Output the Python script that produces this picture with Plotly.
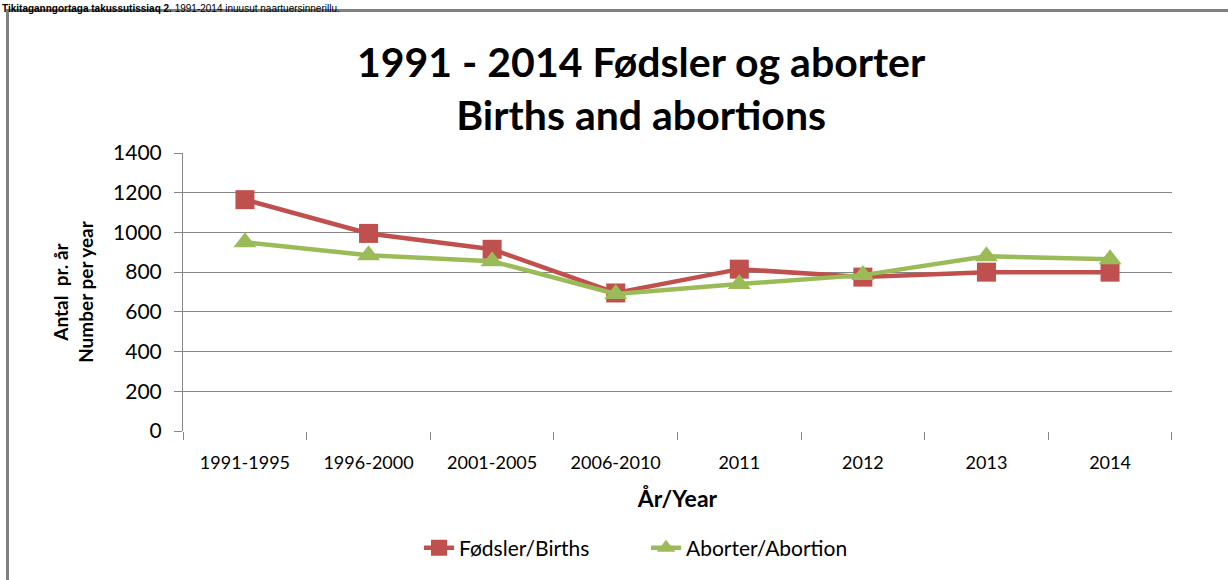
import plotly.graph_objects as go

categories = ["1991-1995", "1996-2000", "2001-2005", "2006-2010", "2011", "2012", "2013", "2014"]
births = [1165, 995, 915, 695, 815, 775, 800, 800]
abortions = [950, 885, 855, 690, 740, 785, 880, 865]
y_ticks = [0, 200, 400, 600, 800, 1000, 1200, 1400]

RED = "#C0504D"
GREEN = "#9BBB59"
GRID = "#868686"
FONT = "Lato"

W, H = 1228, 580
L, R, T, B = 183, 56, 153, 147
pw = W - L - R
ph = H - T - B


def px_x(x):
    return (x - L) / pw


def px_y(y):
    return (H - B - y) / ph


fig = go.Figure()
fig.add_trace(go.Scatter(
    x=categories, y=births, name="Fødsler/Births", mode="lines+markers",
    line=dict(color=RED, width=4.5),
    marker=dict(symbol="square", size=19, color=RED),
))
fig.add_trace(go.Scatter(
    x=categories, y=abortions, name="Aborter/Abortion", mode="lines+markers",
    line=dict(color=GREEN, width=4.5),
    marker=dict(symbol="triangle-up", size=20, color=GREEN),
))

fig.update_layout(
    width=W, height=H,
    margin=dict(l=L, r=R, t=T, b=B),
    paper_bgcolor="white", plot_bgcolor="white",
    font=dict(family=FONT, color="#000000", size=18),
    showlegend=True,
    legend=dict(orientation="h", x=px_x(419), xanchor="left", y=px_y(551), yanchor="middle",
                font=dict(size=21, family=FONT), tracegroupgap=0,
                entrywidth=182, entrywidthmode="pixels"),
    xaxis=dict(
        type="category", tickson="boundaries", ticks="outside", ticklen=8,
        tickcolor=GRID, tickwidth=1, showgrid=False, showline=False,
        tickfont=dict(size=18, family=FONT), ticklabelstandoff=19,
        title=dict(text="<b>År/Year</b>", font=dict(size=23, family=FONT), standoff=18),
        zeroline=False,
    ),
    yaxis=dict(
        range=[0, 1400], tickvals=y_ticks, ticks="outside", ticklen=8,
        tickcolor=GRID, showgrid=True, gridcolor=GRID, gridwidth=1,
        showline=True, linecolor=GRID, linewidth=1,
        tickfont=dict(size=21, family=FONT), ticklabelstandoff=8,
        title=dict(text="<b>Antal  pr. år<br>Number per year</b>", font=dict(size=19, family=FONT), standoff=14),
        zeroline=False,
    ),
)

# Title
fig.add_annotation(
    text="<b>1991 - 2014 Fødsler og aborter<br>Births and abortions</b>",
    xref="paper", yref="paper", x=px_x(641), y=px_y(88), xanchor="center", yanchor="middle",
    showarrow=False, font=dict(size=41, family=FONT, color="#000000"),
)

# Document header at the very top
fig.add_annotation(
    text="<b>Tikitaganngortaga takussutissiaq 2.</b> 1991-2014 inuusut naartuersinnerillu.",
    xref="paper", yref="paper", x=px_x(0), y=px_y(0), xanchor="left", yanchor="top",
    showarrow=False, font=dict(size=10, family="Liberation Sans", color="#000000"),
)

# Frame around chart
fig.add_shape(
    type="rect", xref="paper", yref="paper",
    x0=px_x(7.5), x1=px_x(1240), y0=px_y(9.5), y1=px_y(600),
    line=dict(color="#808080", width=3), fillcolor="rgba(0,0,0,0)", layer="below",
)

fig.write_html("out.html", config={"displayModeBar": False},
               post_script="document.body.style.margin='0px';")
